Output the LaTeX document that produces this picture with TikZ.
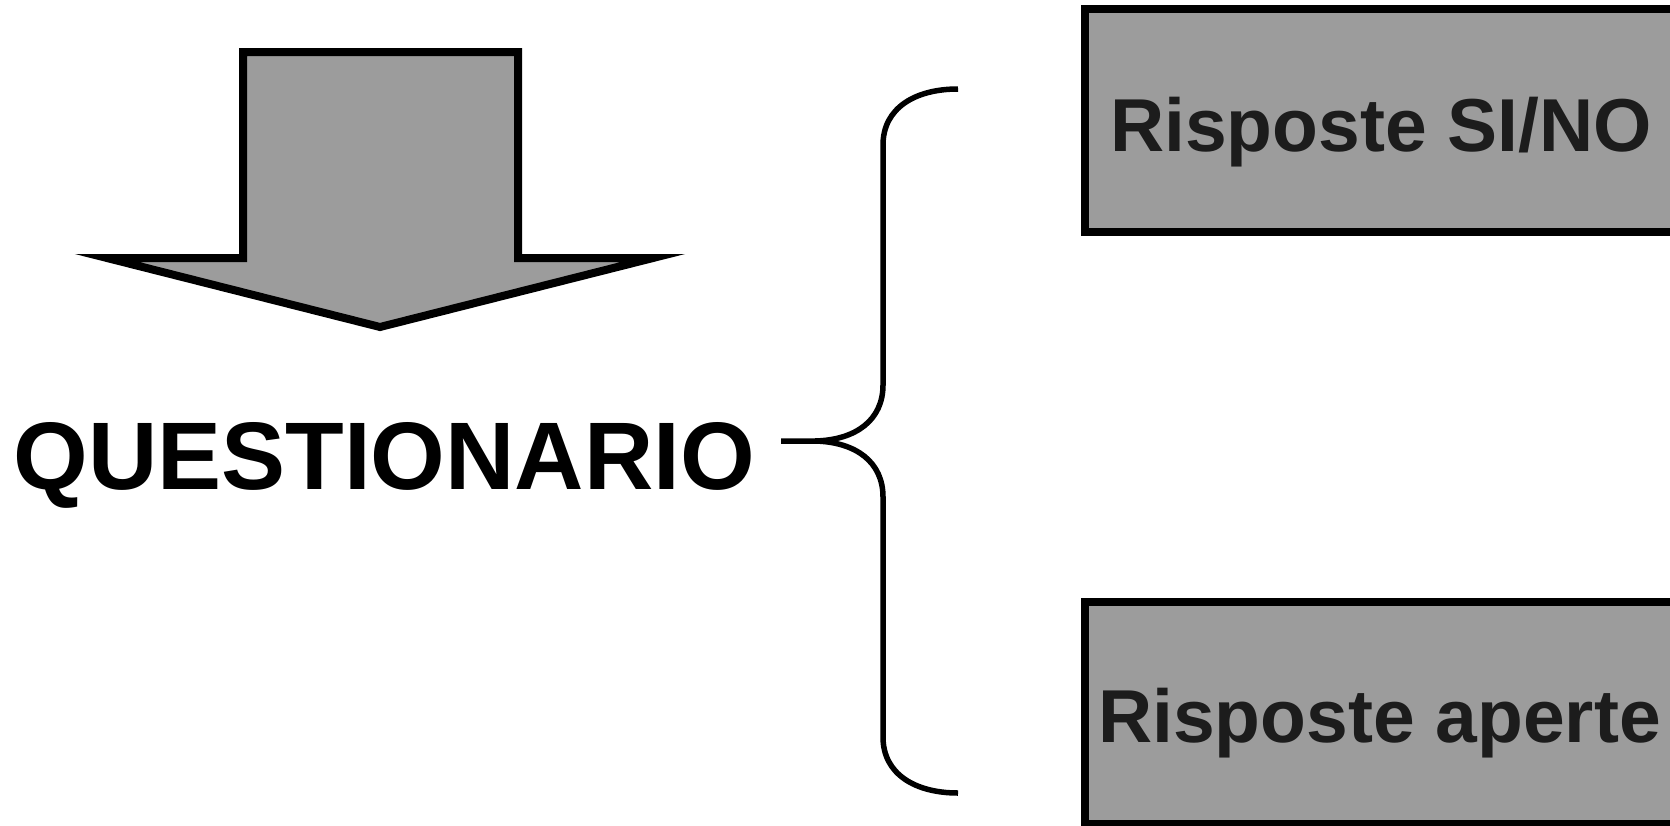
\documentclass[tikz,border=0pt]{standalone}
\usepackage{fontspec}
\setmainfont{Liberation Sans}
\begin{document}
\begin{tikzpicture}[x=1pt,y=-1pt,
  shapefill/.style={fill=boxgray, draw=black, line width=8pt, line join=miter},
  answerbox/.style={rectangle, shapefill, inner sep=0pt, outer sep=0pt,
    minimum width=700pt, anchor=north west},
  boxtext/.style={text=inkgray, font=\fontsize{75}{90}\selectfont\bfseries,
    inner sep=0pt, anchor=base west},
  bracestyle/.style={draw=black, line width=5.5pt, line join=round}]
\definecolor{boxgray}{HTML}{9C9C9C}
\definecolor{inkgray}{HTML}{1C1C1C}
\useasboundingbox (0,0) rectangle (1670,825);
\clip (0,0) rectangle (1670,825);

% downward block arrow
\draw[shapefill] (243,52) -- (518,52) -- (518,258) -- (653,258)
  -- (380,327) -- (107,258) -- (243,258) -- cycle;

% main label
\node[text=black, font=\fontsize{96}{115}\selectfont\bfseries,
  inner sep=0pt, anchor=base] (quest) at (384,489) {QUESTIONARIO};

% curly brace
\coordinate (tip) at (781,441);
\coordinate (cusp) at (815,441);
\coordinate (topend) at (958,89);
\coordinate (botend) at (958,793);
\draw[bracestyle] (tip) -- (cusp)
  .. controls (856,440) and (883,420) .. (883,385) -- (883,145)
  .. controls (883,108) and (915,89) .. (topend);
\draw[bracestyle] (cusp)
  .. controls (856,442) and (883,462) .. (883,497) -- (883,737)
  .. controls (883,774) and (915,793) .. (botend);

% answer boxes
\node[answerbox, minimum height=223pt] (yesno) at (1085,9) {};
\node[boxtext] (yesnotext) at (1110,151) {Risposte SI/NO};
\node[answerbox, minimum height=222pt] (open) at (1085,602) {};
\node[boxtext] (opentext) at (1098,742) {Risposte aperte};
\end{tikzpicture}
\end{document}
